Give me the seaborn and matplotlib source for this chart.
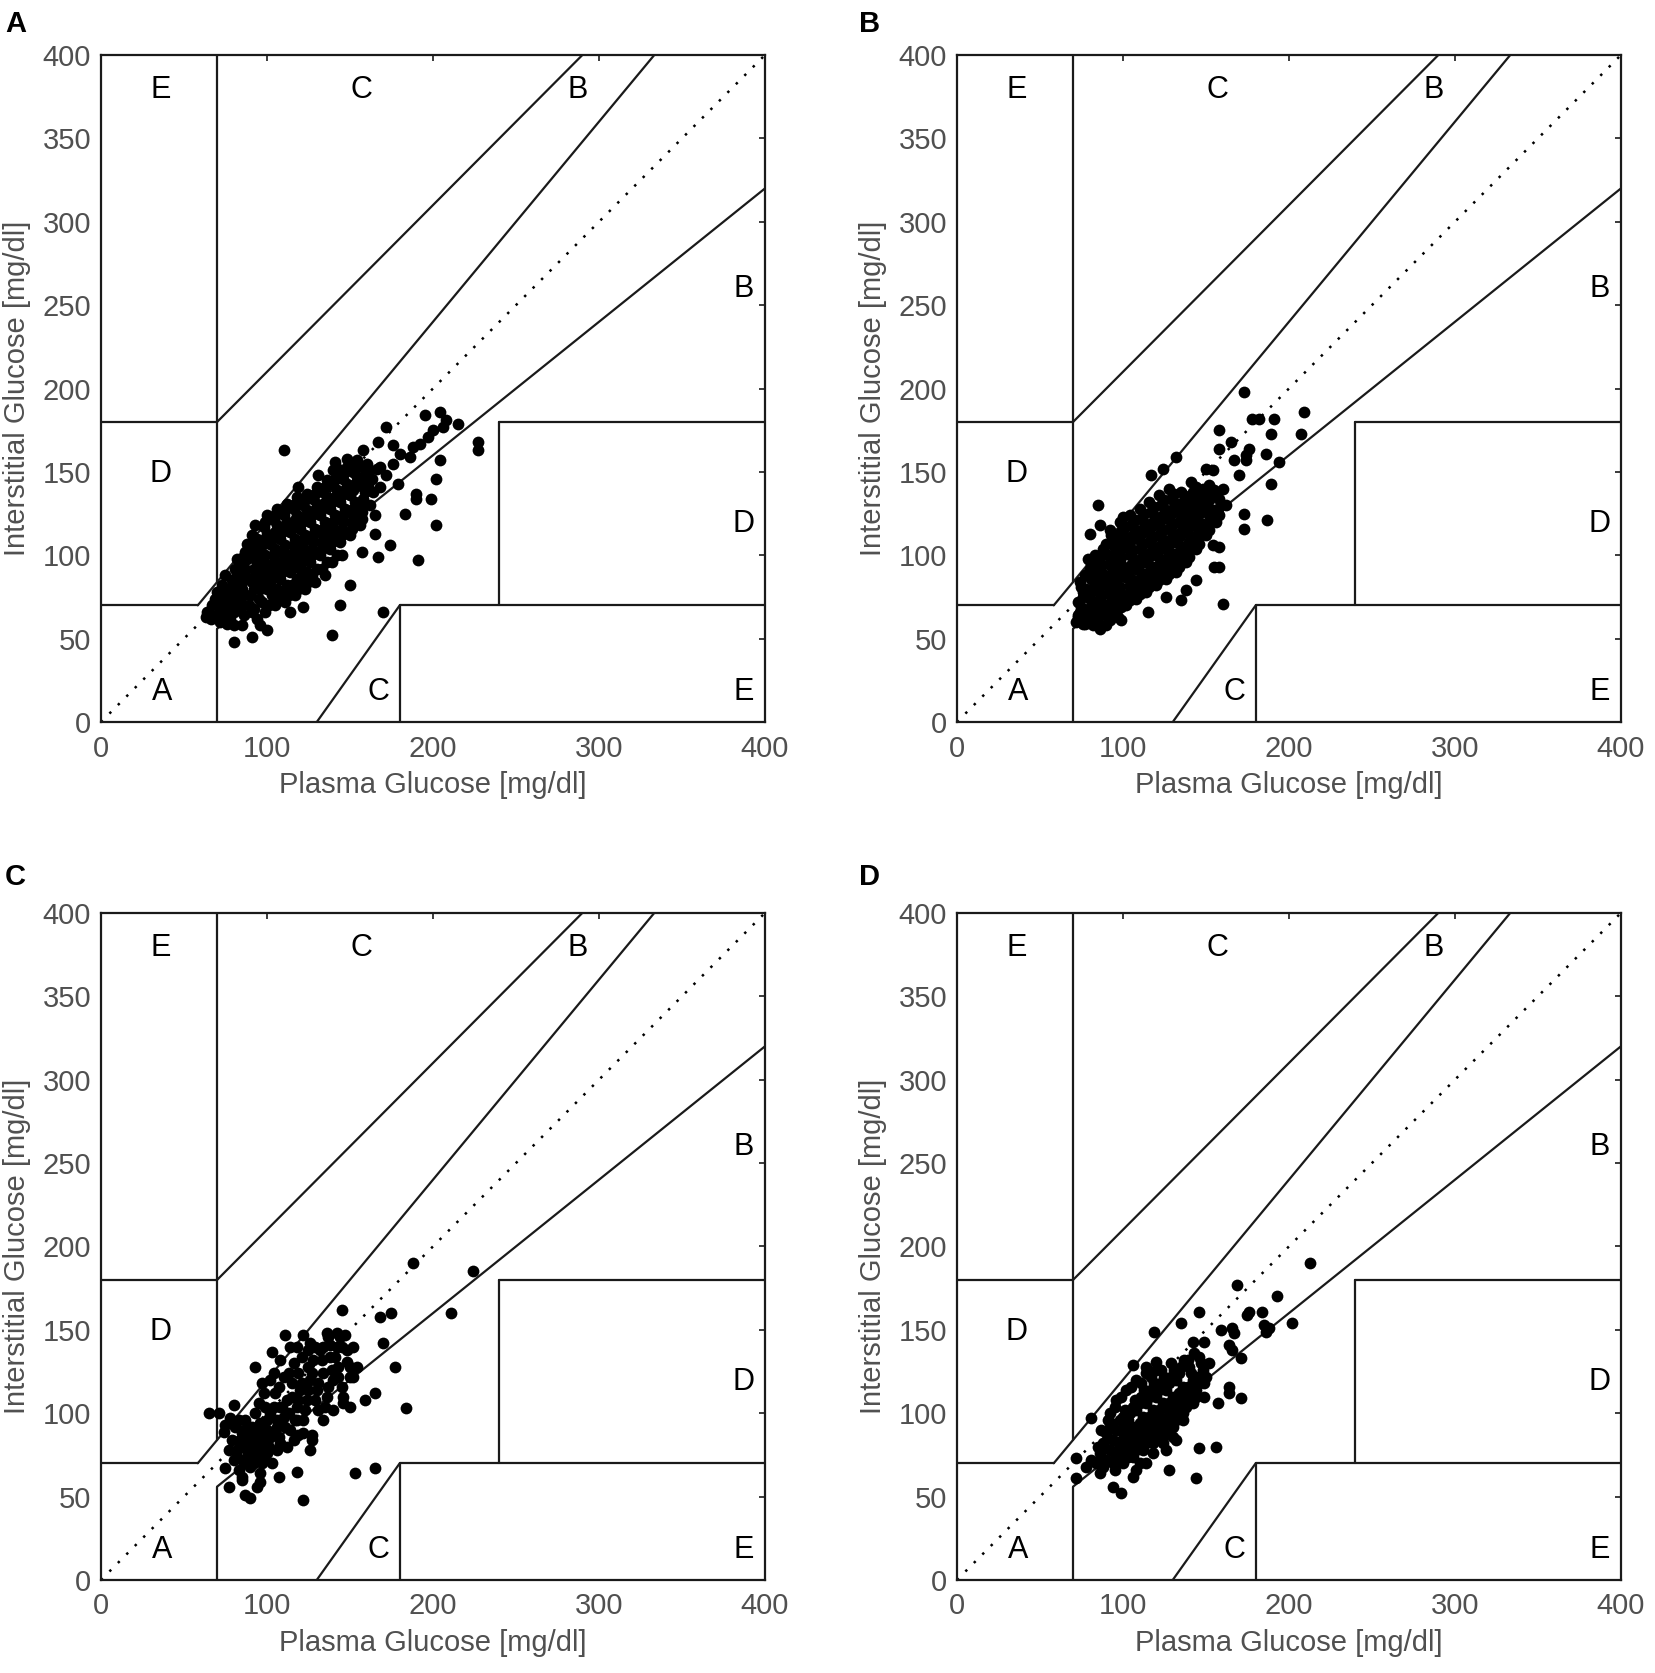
import pandas as pd
import matplotlib
matplotlib.use("Agg")
import matplotlib.pyplot as plt
import seaborn as sns

# Clarke error grid, four sensors / panels
panel_names = ["A", "B", "C", "D"]
axis_ticks_x = [0, 100, 200, 300, 400]
axis_ticks_y = [0, 50, 100, 150, 200, 250, 300, 350, 400]

# zone boundaries (plasma, interstitial) segments
zone_lines = [
    ([0, 175 / 3], [70, 70]),
    ([175 / 3, 400 / 1.2], [70, 400]),
    ([70, 70], [84, 400]),
    ([0, 70], [180, 180]),
    ([70, 290], [180, 400]),
    ([70, 70], [0, 56]),
    ([70, 400], [56, 320]),
    ([180, 180], [0, 70]),
    ([180, 400], [70, 70]),
    ([240, 240], [70, 180]),
    ([240, 400], [180, 180]),
    ([130, 180], [0, 70]),
]
zone_labels = ["E", "C", "B", "B", "D", "D", "A", "C", "E"]
zone_label_x = [36, 157, 287, 387, 36, 387, 37, 167, 387]
zone_label_y = [381, 381, 381, 262, 151, 121, 20, 20, 20]

# scatter points (plasma, interstitial)
points_a = [
    (110, 163), (139, 52), (170, 66), (191, 97), (202, 118), (227, 168), (227, 163),
    (202, 146), (204, 157), (190, 137), (190, 134), (199, 134), (183, 125), (165, 113),
    (174, 106), (167, 99), (157, 102), (150, 82), (144, 70), (80, 48), (91, 51),
    (100, 55), (96, 58), (122, 69), (114, 66), (76, 59), (66, 64), (63, 63),
    (195, 184), (204, 186), (206, 177), (215, 179), (208, 181), (200, 175), (197, 171),
    (192, 167), (188, 165), (172, 177), (167, 168), (176, 166), (180, 161), (186, 159),
    (158, 163), (148, 158), (140, 151), (144, 147), (152, 153), (161, 151), (168, 153),
    (172, 148), (176, 155), (179, 143), (168, 141), (158, 141), (152, 139),
    (64, 66), (67, 70), (69, 74), (66, 62), (70, 78),
    (72, 68), (74, 75), (73, 82), (76, 64), (75, 88), (72, 60),
    (78, 70), (80, 78), (79, 85), (81, 92), (78, 62), (82, 98), (80, 66),
    (84, 72), (85, 80), (86, 88), (84, 95), (87, 102), (86, 64), (88, 107), (85, 58),
    (90, 76), (91, 84), (92, 92), (90, 99), (93, 106), (91, 112), (92, 68), (94, 62), (93, 118),
    (96, 80), (97, 88), (98, 96), (96, 103), (99, 110), (98, 117), (97, 72), (100, 124), (99, 66),
    (102, 84), (103, 92), (104, 100), (102, 107), (105, 114), (104, 121), (103, 76), (106, 128), (105, 70),
    (108, 86), (109, 94), (110, 102), (108, 110), (111, 117), (110, 124), (109, 78), (112, 131), (111, 72),
    (114, 90), (115, 98), (116, 106), (114, 114), (117, 121), (116, 128), (115, 82), (118, 135), (117, 76),
    (119, 141), (120, 92), (121, 100), (122, 108), (120, 116), (123, 123), (122, 130), (121, 86),
    (124, 137), (123, 80), (126, 96), (127, 104), (128, 112), (126, 120), (129, 127), (128, 134),
    (127, 88), (130, 141), (129, 84), (131, 148), (132, 100), (133, 108), (134, 116), (132, 124),
    (135, 131), (134, 138), (133, 92), (136, 145), (135, 88), (138, 104), (139, 112), (140, 120),
    (138, 128), (141, 135), (140, 142), (139, 96), (142, 149), (141, 156), (144, 108), (145, 116),
    (146, 124), (144, 132), (147, 139), (146, 146), (148, 153), (145, 100), (150, 112), (151, 120),
    (152, 128), (150, 136), (153, 143), (152, 150), (154, 157), (156, 118), (157, 126), (158, 134),
    (156, 142), (159, 148), (160, 155), (162, 130), (164, 138), (163, 146), (166, 152), (165, 124),
    (70, 70), (71, 64), (74, 72), (76, 80), (77, 67), (79, 74), (81, 82), (82, 89), (80, 58),
    (83, 76), (84, 68), (85, 84), (87, 92), (88, 98), (86, 76), (89, 70), (89, 86), (90, 104),
    (91, 66), (92, 80), (93, 88), (94, 96), (95, 102), (94, 110), (95, 74), (97, 84), (98, 92),
    (99, 100), (97, 106), (100, 113), (99, 120), (100, 80), (101, 70), (103, 88), (104, 96),
    (105, 104), (103, 110), (106, 118), (105, 124), (106, 80), (107, 74), (109, 90), (110, 98),
    (111, 106), (109, 114), (112, 120), (111, 127), (112, 82), (113, 76), (115, 94), (116, 102),
    (117, 110), (115, 117), (118, 124), (117, 131), (118, 86), (119, 80), (121, 96), (122, 104),
    (123, 112), (121, 120), (124, 127), (123, 133), (124, 90), (125, 84), (127, 100), (128, 108),
    (129, 116), (127, 124), (130, 131), (129, 137), (130, 92), (133, 104), (134, 112), (135, 120),
    (133, 128), (136, 135), (135, 141), (136, 96), (139, 108), (140, 116), (141, 124), (139, 132),
    (142, 139), (141, 146), (143, 152), (142, 100), (145, 112), (146, 120), (147, 128), (145, 136),
    (148, 143), (147, 150), (151, 116), (152, 124), (153, 132), (151, 140), (154, 147), (155, 153),
    (157, 122), (158, 130), (159, 138), (157, 146), (161, 142), (161, 150),
]

points_b = [
    (173, 198), (178, 182), (182, 182), (191, 182), (209, 186), (207, 173), (189, 173),
    (158, 175), (165, 168), (158, 164), (176, 164), (186, 161), (194, 156), (174, 157),
    (174, 160), (167, 157), (189, 143), (187, 121), (173, 116), (173, 125), (160, 71),
    (135, 73), (115, 66), (99, 61), (85, 130), (80, 113), (86, 118), (132, 159),
    (117, 148), (124, 152), (150, 152), (154, 151), (170, 148), (154, 106), (155, 93),
    (158, 93), (144, 85), (158, 105), (138, 79), (126, 75), (73, 64), (76, 59),
    (72, 60), (74, 66), (73, 72), (76, 78), (75, 62), (74, 84),
    (78, 62), (79, 68), (80, 74), (78, 80), (81, 86), (80, 92), (82, 58), (79, 98),
    (84, 62), (85, 68), (86, 74), (84, 80), (87, 86), (86, 92), (85, 98), (88, 104), (86, 56),
    (90, 64), (91, 70), (92, 76), (90, 82), (93, 88), (92, 94), (91, 100), (94, 106), (93, 112), (90, 58),
    (96, 66), (97, 72), (98, 78), (96, 84), (99, 90), (98, 96), (97, 102), (100, 108), (99, 114), (98, 120),
    (102, 70), (103, 76), (104, 82), (102, 88), (105, 94), (104, 100), (103, 106), (106, 112), (105, 118),
    (104, 124), (108, 74), (109, 80), (110, 86), (108, 92), (111, 98), (110, 104), (109, 110), (112, 116),
    (111, 122), (110, 128), (114, 78), (115, 84), (116, 90), (114, 96), (117, 102), (116, 108), (115, 114),
    (118, 120), (117, 126), (116, 132), (120, 82), (121, 88), (122, 94), (120, 100), (123, 106), (122, 112),
    (121, 118), (124, 124), (123, 130), (122, 136), (126, 86), (127, 92), (128, 98), (126, 104), (129, 110),
    (128, 116), (127, 122), (130, 128), (129, 134), (128, 140), (132, 90), (133, 96), (134, 102), (132, 108),
    (135, 114), (134, 120), (133, 126), (136, 132), (135, 138), (138, 96), (139, 102), (140, 108), (138, 114),
    (141, 120), (140, 126), (139, 132), (142, 138), (141, 144), (144, 104), (145, 110), (146, 116), (144, 122),
    (147, 128), (146, 134), (148, 140), (150, 112), (151, 118), (152, 124), (150, 130), (153, 136), (152, 142),
    (156, 120), (157, 128), (158, 134), (160, 140), (162, 130),
    (73, 63), (75, 69), (76, 75), (75, 81), (77, 59), (77, 88), (80, 60), (81, 66), (82, 72),
    (80, 78), (83, 83), (82, 89), (81, 95), (83, 100), (85, 60), (87, 65), (88, 71), (86, 77),
    (89, 83), (88, 89), (87, 95), (89, 101), (90, 107), (92, 61), (93, 67), (94, 73), (92, 79),
    (95, 85), (94, 91), (93, 97), (96, 103), (95, 109), (92, 115), (97, 63), (99, 69), (100, 75),
    (98, 81), (101, 87), (100, 93), (99, 99), (101, 105), (102, 111), (101, 117), (100, 123),
    (104, 73), (105, 79), (106, 85), (104, 91), (107, 97), (106, 103), (105, 109), (108, 115),
    (107, 121), (110, 77), (111, 83), (112, 89), (110, 95), (113, 101), (112, 107), (111, 113),
    (114, 119), (113, 125), (116, 81), (117, 87), (118, 93), (116, 99), (119, 105), (118, 111),
    (117, 117), (120, 123), (119, 129), (122, 85), (123, 91), (124, 97), (122, 103), (125, 109),
    (124, 115), (123, 121), (126, 127), (125, 133), (128, 89), (129, 95), (130, 101), (128, 107),
    (131, 113), (130, 119), (129, 125), (132, 131), (131, 137), (134, 93), (135, 99), (136, 105),
    (134, 111), (137, 117), (136, 123), (135, 129), (138, 135), (140, 99), (141, 105), (142, 111),
    (140, 117), (143, 123), (142, 129), (141, 135), (144, 141), (146, 107), (147, 113), (148, 119),
    (146, 125), (149, 131), (148, 137), (152, 115), (153, 121), (154, 127), (152, 133), (155, 139),
    (158, 124), (159, 131), (156, 136),
]

points_c = [
    (188, 190), (224, 185), (211, 160), (175, 160), (168, 158), (145, 162), (170, 142),
    (177, 128), (184, 103), (165, 112), (159, 108), (153, 64), (165, 67), (122, 48),
    (107, 62), (87, 51), (90, 49), (77, 56), (65, 100), (71, 100), (93, 128),
    (103, 137), (111, 147), (122, 147), (136, 148), (142, 148), (147, 147), (134, 140),
    (138, 141), (152, 140), (118, 140), (125, 138), (148, 131), (152, 122), (154, 128),
    (146, 106), (150, 104), (126, 78), (127, 87), (119, 87), (118, 65), (75, 67),
    (85, 60), (94, 56), (96, 59), (80, 105), (78, 97), (75, 93), (74, 89),
    (80, 72), (82, 78), (84, 84), (86, 90), (83, 66), (88, 74), (90, 80), (92, 86),
    (87, 96), (90, 68), (94, 74), (96, 82), (98, 90), (85, 62), (93, 100), (96, 64),
    (100, 76), (102, 86), (100, 96), (104, 104), (106, 92), (108, 82), (110, 98), (105, 112),
    (112, 108), (114, 90), (115, 118), (118, 104), (120, 114), (119, 124), (122, 96), (124, 108),
    (126, 120), (128, 132), (130, 114), (131, 102), (134, 124), (136, 110), (138, 134), (140, 120),
    (142, 140), (143, 128), (145, 116), (132, 138), (126, 142), (116, 130), (110, 122), (108, 132),
    (114, 140), (102, 120), (98, 112), (95, 106), (91, 92), (89, 86), (97, 70), (103, 70),
    (106, 78), (112, 80), (116, 84), (122, 88), (127, 84), (125, 128), (137, 146), (144, 146),
    (148, 138), (150, 122), (146, 110), (140, 102), (134, 96), (150, 128), (118, 96), (108, 104),
    (104, 124),
    (82, 74), (84, 80), (86, 70), (88, 78), (85, 88), (87, 82), (89, 92), (91, 76), (93, 82),
    (92, 70), (95, 78), (94, 88), (96, 94), (98, 74), (99, 84), (101, 80), (100, 90), (102, 100),
    (104, 88), (106, 96), (107, 86), (109, 104), (111, 92), (113, 100), (115, 110), (117, 96),
    (119, 108), (121, 118), (123, 102), (125, 114), (127, 124), (129, 108), (131, 118), (133, 132),
    (135, 104), (137, 116), (139, 126), (141, 134), (143, 122), (145, 140), (113, 124), (107, 116),
    (121, 134), (129, 140), (99, 104), (97, 118), (79, 84), (81, 92), (77, 78), (83, 96),
]

points_d = [
    (213, 190), (193, 170), (202, 154), (185, 153), (188, 151), (186, 149), (184, 161),
    (176, 161), (175, 159), (169, 177), (146, 161), (135, 154), (119, 149), (142, 143),
    (149, 143), (159, 150), (166, 151), (167, 148), (164, 141), (166, 138), (171, 133),
    (164, 116), (164, 112), (171, 109), (157, 106), (149, 110), (156, 80), (146, 79),
    (144, 61), (128, 66), (106, 62), (94, 56), (99, 52), (72, 61), (72, 73),
    (81, 72), (78, 68), (81, 97), (87, 90), (106, 129), (114, 128), (120, 131),
    (84, 70), (86, 76), (88, 82), (90, 88), (86, 64), (90, 72), (92, 78), (94, 84),
    (93, 94), (95, 66), (96, 74), (98, 80), (100, 88), (98, 96), (101, 102), (100, 70),
    (102, 78), (104, 84), (106, 92), (104, 100), (107, 108), (106, 74), (108, 82), (110, 90),
    (112, 98), (110, 106), (113, 114), (112, 78), (114, 86), (116, 94), (118, 102), (116, 110),
    (119, 118), (118, 82), (120, 90), (122, 98), (124, 106), (122, 114), (125, 122), (124, 86),
    (126, 94), (128, 102), (130, 110), (128, 118), (131, 126), (130, 92), (132, 100), (134, 108),
    (136, 116), (134, 124), (137, 132), (138, 104), (140, 112), (142, 120), (140, 128), (143, 136),
    (144, 110), (146, 118), (148, 126), (146, 134), (150, 122), (152, 130), (136, 96), (126, 78),
    (132, 84), (108, 66), (114, 70), (96, 108), (102, 114), (108, 120), (114, 124), (120, 126),
    (92, 100),
    (87, 73), (89, 79), (91, 85), (88, 68), (92, 92), (94, 70), (95, 77), (97, 83), (96, 90),
    (99, 76), (100, 84), (101, 92), (100, 98), (103, 74), (104, 81), (105, 88), (103, 96),
    (106, 104), (108, 78), (109, 86), (110, 94), (108, 102), (111, 110), (114, 82), (115, 90),
    (116, 98), (114, 106), (117, 114), (120, 86), (121, 94), (122, 102), (120, 110), (123, 118),
    (126, 90), (127, 98), (128, 106), (126, 114), (129, 122), (132, 96), (133, 104), (134, 112),
    (132, 120), (135, 128), (138, 108), (139, 116), (141, 124), (139, 132), (144, 114), (145, 122),
    (147, 130), (149, 118), (110, 70), (118, 76), (124, 82), (130, 86), (136, 100), (142, 106),
    (95, 104), (99, 110), (105, 116), (111, 118), (117, 122), (123, 126), (129, 130), (85, 80),
    (91, 96),
]

all_points = [points_a, points_b, points_c, points_d]

sns.set_theme(style="white")
plt.rcParams["font.family"] = ["Liberation Sans", "DejaVu Sans"]

fig = plt.figure(figsize=(16.55, 16.73), dpi=100)

ax_w, ax_h = 0.4012, 0.3987
ax_pos = [(0.0610, 0.5684), (0.5782, 0.5684), (0.0610, 0.0556), (0.5782, 0.0556)]
letter_pos = [(0.003, 0.994), (0.519, 0.994), (0.003, 0.4843), (0.519, 0.4843)]

grey = "#505050"

for name, pts, (px, py), (lx, ly) in zip(panel_names, all_points, ax_pos, letter_pos):
    ax = fig.add_axes([px, py, ax_w, ax_h])
    df = pd.DataFrame(pts, columns=["plasma", "interstitial"])

    # identity line
    ax.plot([0, 400], [0, 400], color="black", lw=1.8,
            linestyle=(0, (1, 3.8)), dash_capstyle="butt", zorder=1)
    for xs, ys in zone_lines:
        ax.plot(xs, ys, color="#1a1a1a", lw=1.6, zorder=2)

    sns.scatterplot(data=df, x="plasma", y="interstitial", ax=ax,
                    color="black", s=72, linewidth=0, zorder=3, legend=False)

    for lab, tx, ty in zip(zone_labels, zone_label_x, zone_label_y):
        ax.text(tx, ty, lab, ha="center", va="center_baseline",
                fontsize=22, color="black")

    ax.set_xlim(0, 400)
    ax.set_ylim(0, 400)
    ax.set_xticks(axis_ticks_x)
    ax.set_yticks(axis_ticks_y)
    ax.tick_params(direction="in", length=4.5, width=1.2, color="#1a1a1a",
                   top=True, right=True, labelsize=21, labelcolor=grey)
    ax.tick_params(axis="y", pad=7)
    ax.tick_params(axis="x", pad=9)
    for sp in ax.spines.values():
        sp.set_color("#1a1a1a")
        sp.set_linewidth(1.6)

    ax.set_xlabel("Plasma Glucose [mg/dl]", fontsize=21, color=grey, labelpad=6)
    ax.set_ylabel("Interstitial Glucose [mg/dl]", fontsize=21, color=grey, labelpad=8)

    fig.text(lx, ly, name, ha="left", va="top", fontsize=21,
             fontweight="bold", color="black")

fig.savefig("out.png", dpi=100, facecolor="white")
